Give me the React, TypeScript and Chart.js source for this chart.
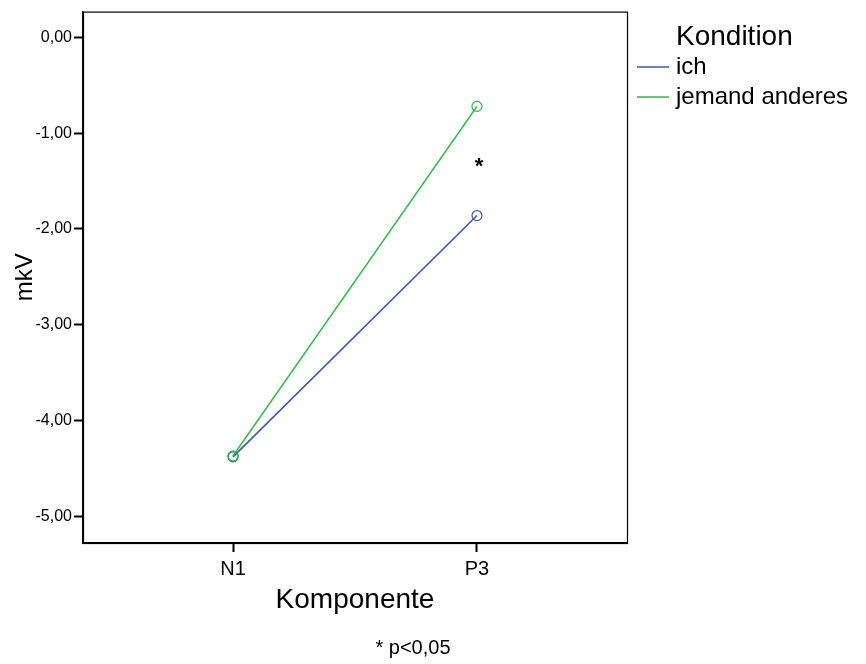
import React, { useEffect, useRef } from "react";
import { Chart, registerables } from "chart.js";

Chart.register(...registerables);

const categories = ["N1", "P3"];
const seriesNames = ["ich", "jemand anderes"];
const ichValues = [-4.38, -1.86];
const jemandValues = [-4.37, -0.72];
const yTicks = [0, -1, -2, -3, -4, -5];
const legendTitle = "Kondition";
const xTitle = "Komponente";
const yTitle = "mkV";
const footnote = "* p<0,05";
const significanceMark = "*";

const BLUE = "#3e58ac";
const GREEN = "#2eb848";
const FONT = "'Liberation Sans', Arial, Helvetica, sans-serif";

const overlayPlugin = {
  id: "overlay",
  afterDraw(chart: any) {
    const { ctx, chartArea } = chart;
    const { left, top, right, bottom } = chartArea;
    ctx.save();
    ctx.strokeStyle = "#000";
    ctx.lineWidth = 1.2;
    ctx.strokeRect(left + 0.5, top + 0.5, right - left, bottom - top);

    // legend
    ctx.fillStyle = "#000";
    ctx.textBaseline = "middle";
    ctx.textAlign = "left";
    ctx.font = `28px ${FONT}`;
    ctx.fillText(legendTitle, 676, 37);
    const colors = [BLUE, GREEN];
    const ys = [67, 97];
    ctx.font = `24px ${FONT}`;
    seriesNames.forEach((n, i) => {
      ctx.strokeStyle = colors[i];
      ctx.lineWidth = 1.5;
      ctx.beginPath();
      ctx.moveTo(637, ys[i]);
      ctx.lineTo(669, ys[i]);
      ctx.stroke();
      ctx.fillStyle = "#000";
      ctx.fillText(n, 676, ys[i]);
    });

    // significance asterisk between P3 points
    const xs = chart.scales.x;
    const ysc = chart.scales.y;
    const px = xs.getPixelForValue(2);
    const midY = ysc.getPixelForValue((ichValues[1] + jemandValues[1]) / 2);
    ctx.font = `bold 22px ${FONT}`;
    ctx.textAlign = "center";
    ctx.fillText(significanceMark, px + 2, midY + 6);

    // footnote
    ctx.font = `20px ${FONT}`;
    ctx.textAlign = "center";
    ctx.fillText(footnote, 413, 648);
    ctx.restore();
  },
};

export default function App() {
  const ref = useRef<HTMLCanvasElement>(null);
  useEffect(() => {
    if (!ref.current) return;
    const chart = new Chart(ref.current, {
      type: "line",
      data: {
        datasets: [
          {
            label: seriesNames[0],
            data: ichValues.map((v, i) => ({ x: i + 1, y: v })),
            borderColor: BLUE,
            backgroundColor: "rgba(0,0,0,0)",
            pointBorderColor: BLUE,
            pointBackgroundColor: "rgba(0,0,0,0)",
            pointRadius: 5,
            pointBorderWidth: 1.2,
            borderWidth: 1.6,
            order: 1,
          },
          {
            label: seriesNames[1],
            data: jemandValues.map((v, i) => ({ x: i + 1, y: v })),
            borderColor: GREEN,
            backgroundColor: "rgba(0,0,0,0)",
            pointBorderColor: GREEN,
            pointBackgroundColor: "rgba(0,0,0,0)",
            pointRadius: 5,
            pointBorderWidth: 1.2,
            borderWidth: 1.6,
            order: 0,
          },
        ],
      },
      options: {
        animation: false,
        responsive: false,
        devicePixelRatio: 1,
        layout: { padding: { top: 10, right: 239, bottom: 0, left: 12 } },
        plugins: {
          legend: { display: false },
          tooltip: { enabled: false },
        },
        scales: {
          x: {
            type: "linear",
            min: 0.385,
            max: 2.615,
            afterFit: (s: any) => {
              s.height = 121;
            },
            afterBuildTicks: (s: any) => {
              s.ticks = categories.map((_, i) => ({ value: i + 1 }));
            },
            ticks: {
              callback: (v: any) => categories[Math.round(Number(v)) - 1] ?? "",
              color: "#000",
              font: { family: FONT, size: 20 },
              padding: 5,
              maxRotation: 0,
            },
            grid: {
              drawOnChartArea: false,
              drawTicks: true,
              tickLength: 9,
              tickWidth: 2,
              color: "#000",
            },
            border: { display: true, color: "#000", width: 1.2 },
            title: {
              display: true,
              text: xTitle,
              color: "#000",
              font: { family: FONT, size: 28 },
              padding: { top: 0, bottom: 47 },
            },
          },
          y: {
            type: "linear",
            min: -5.28,
            max: 0.27,
            afterFit: (s: any) => {
              s.width = 71;
            },
            afterBuildTicks: (s: any) => {
              s.ticks = yTicks.map((v) => ({ value: v }));
            },
            ticks: {
              callback: (v: any) => Number(v).toFixed(2).replace(".", ","),
              color: "#000",
              font: { family: FONT, size: 16 },
              padding: 2,
            },
            grid: {
              drawOnChartArea: false,
              drawTicks: true,
              tickLength: 9,
              tickWidth: 2,
              color: "#000",
            },
            border: { display: true, color: "#000", width: 1.2 },
            title: {
              display: true,
              text: yTitle,
              color: "#000",
              font: { family: FONT, size: 24 },
              padding: { top: -1, bottom: 0 },
            },
          },
        },
      },
      plugins: [overlayPlugin],
    } as any);
    return () => chart.destroy();
  }, []);
  return (
    <div style={{ position: "fixed", left: 0, top: 0, width: 866, height: 664, background: "#fff" }}>
      <canvas ref={ref} width={866} height={664} style={{ display: "block" }} />
    </div>
  );
}
